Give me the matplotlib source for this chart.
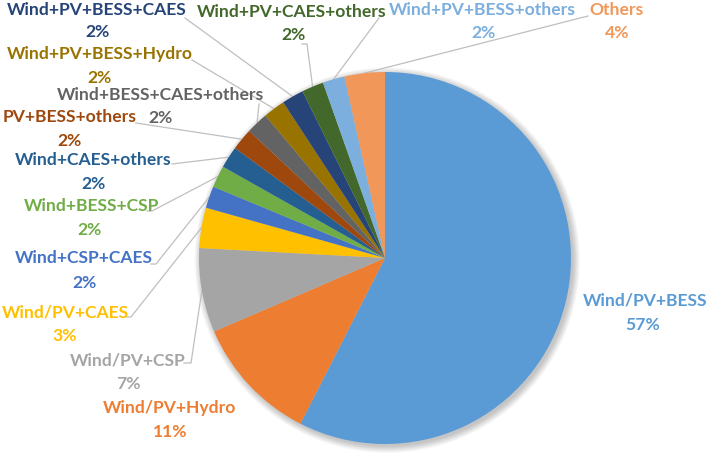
import matplotlib
matplotlib.use("Agg")
import matplotlib.pyplot as plt
import numpy as np
from matplotlib.patches import Circle

# ---- data (clockwise from 12 o'clock) ----
categories = [
    "Wind/PV+BESS", "Wind/PV+Hydro", "Wind/PV+CSP", "Wind/PV+CAES",
    "Wind+CSP+CAES", "Wind+BESS+CSP", "Wind+CAES+others", "PV+BESS+others",
    "Wind+BESS+CAES+others", "Wind+PV+BESS+Hydro", "Wind+PV+BESS+CAES",
    "Wind+PV+CAES+others", "Wind+PV+BESS+others", "Others",
]
shares = [57.4, 11.0, 7.3, 3.5, 1.9, 1.9, 1.9, 1.9, 1.9, 1.9, 1.9, 1.9, 1.9, 3.5]
pct_labels = [57, 11, 7, 3, 2, 2, 2, 2, 2, 2, 2, 2, 2, 4]
colors = ["#5B9BD5", "#ED7D31", "#A5A5A5", "#FFC000", "#4472C4", "#70AD47",
          "#255E91", "#9E480E", "#636363", "#997300", "#264478", "#43682B",
          "#7CAFDD", "#F1975A"]

# ---- layout (pixel positions in the 709x453 canvas) ----
W, H = 709, 453
CX, CY, R = 385, 258, 186


def px(x, y):
    return ((x - CX) / R, (CY - y) / R)


# name line centre, pct line centre, leader-line start (None = no line)
label_layout = [
    ((645, 300), (643, 325), None),
    ((170, 408), (170, 432), None),
    ((128, 360), (128, 384), [(184, 363), (191, 363)]),
    ((65, 312), (65, 336), [(126, 317), (131, 317)]),
    ((84, 258), (84, 283), [(151, 264), (156, 264)]),
    ((92, 206), (90, 230), [(147, 211), (152, 211)]),
    ((93, 160), (93, 184), [(172, 164)]),
    ((70, 117), (70, 141), [(136, 123)]),
    ((160, 95), (160, 118), [(259, 104)]),
    ((100, 54), (100, 78), [(192, 60)]),
    ((97, 10), (97, 32), [(185, 18)]),
    ((292, 12), (293, 35), [(302, 44), (307, 44)]),
    ((482, 10), (483, 33), [(379, 18)]),
    ((616, 10), (617, 33), [(588, 16)]),
]

fig = plt.figure(figsize=(W / 100, H / 100), dpi=100)
ax = fig.add_axes([0, 0, 1, 1])

# soft shadow
for i in range(10):
    ax.add_patch(Circle((0.012, -0.012), 1.0 + 0.004 * i, color="#000000",
                        alpha=0.025, lw=0, zorder=0))

wedges, _ = ax.pie(shares, colors=colors, startangle=90, counterclock=False,
                   radius=1.0, center=(0, 0),
                   wedgeprops=dict(linewidth=0, antialiased=True))
for w in wedges:
    w.set_zorder(2)

ax.set_xlim(-CX / R, (W - CX) / R)
ax.set_ylim(-(H - CY) / R, CY / R)
ax.set_aspect("equal")
ax.axis("off")

font = dict(family=["Lato", "DejaVu Sans"], fontweight="bold", fontsize=12.6)

for w, name, pct, col, (npos, ppos, line) in zip(
        wedges, categories, pct_labels, colors, label_layout):
    ax.text(*px(*npos), name, color=col, ha="center", va="center", **font)
    ax.text(*px(*ppos), f"{pct}%", color=col, ha="center", va="center", **font)
    if line:
        ang = np.deg2rad((w.theta1 + w.theta2) / 2)
        end = (np.cos(ang) * w.r, np.sin(ang) * w.r)
        pts = [px(*p) for p in line] + [end]
        xs, ys = zip(*pts)
        ax.plot(xs, ys, color="#BFBFBF", lw=0.9, zorder=1)

fig.savefig("out.png", dpi=100, facecolor="white")
